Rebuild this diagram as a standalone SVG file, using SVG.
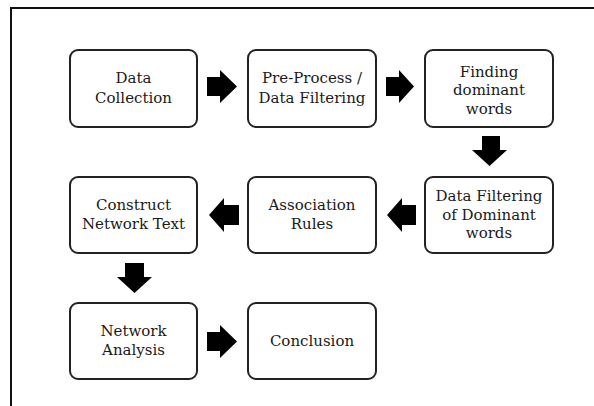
<svg xmlns="http://www.w3.org/2000/svg" width="594" height="406" viewBox="0 0 594 406">
  <style>
    .box { fill: #ffffff; stroke: #222222; stroke-width: 2; }
    .lbl { font-family: "DejaVu Serif", serif; font-size: 15px; fill: #1a1a1a; text-anchor: middle; }
    .arr { fill: #000000; }
    .frame { fill: none; stroke: #111111; stroke-width: 2; }
  </style>
  <rect width="594" height="406" fill="#ffffff"/>
  <!-- outer frame: top and left edges -->
  <path class="frame" d="M11,406 V8 H594"/>

  <g id="n-data-collection">
    <rect class="box" x="70" y="50" width="127" height="77" rx="8"/>
    <text class="lbl" x="133.5" y="83">Data</text>
    <text class="lbl" x="133.5" y="102.5">Collection</text>
  </g>
  <g id="n-pre-process">
    <rect class="box" x="248" y="50" width="128" height="77" rx="8"/>
    <text class="lbl" x="312" y="83">Pre-Process /</text>
    <text class="lbl" x="312" y="102.5">Data Filtering</text>
  </g>
  <g id="n-finding">
    <rect class="box" x="425" y="50" width="128" height="77" rx="8"/>
    <text class="lbl" x="489" y="76.5">Finding</text>
    <text class="lbl" x="489" y="95">dominant</text>
    <text class="lbl" x="489" y="113.5">words</text>
  </g>
  <g id="n-filter-dominant">
    <rect class="box" x="425" y="177" width="128" height="76" rx="8"/>
    <text class="lbl" x="489" y="201">Data Filtering</text>
    <text class="lbl" x="489" y="219.5">of Dominant</text>
    <text class="lbl" x="489" y="238">words</text>
  </g>
  <g id="n-association">
    <rect class="box" x="248" y="177" width="128" height="76" rx="8"/>
    <text class="lbl" x="312" y="210">Association</text>
    <text class="lbl" x="312" y="229">Rules</text>
  </g>
  <g id="n-construct">
    <rect class="box" x="70" y="177" width="127" height="76" rx="8"/>
    <text class="lbl" x="133.5" y="210">Construct</text>
    <text class="lbl" x="133.5" y="229">Network Text</text>
  </g>
  <g id="n-network-analysis">
    <rect class="box" x="70" y="303" width="127" height="76" rx="8"/>
    <text class="lbl" x="133.5" y="336">Network</text>
    <text class="lbl" x="133.5" y="355">Analysis</text>
  </g>
  <g id="n-conclusion">
    <rect class="box" x="248" y="303" width="128" height="76" rx="8"/>
    <text class="lbl" x="312" y="346">Conclusion</text>
  </g>

  <g id="connectors">
    <!-- right block arrows -->
    <path class="arr" d="M207,77 H220 V70 L237,86.5 L220,103 V96 H207 Z"/>
    <path class="arr" d="M386,77 H399 V70 L414,86.5 L399,103 V96 H386 Z"/>
    <path class="arr" d="M207,332 H220 V325 L237,341.5 L220,358 V351 H207 Z"/>
    <!-- down block arrows -->
    <path class="arr" d="M482,136 H500 V150 H507 L489.5,166 L472,150 H482 Z"/>
    <path class="arr" d="M125,263 H144 V277 H152 L134.5,293 L117,277 H125 Z"/>
    <!-- left block arrows -->
    <path class="arr" d="M416,205 H402 V198 L387,215 L402,232 V225 H416 Z"/>
    <path class="arr" d="M239,205 H224 V198 L209,215 L224,232 V225 H239 Z"/>
  </g>
</svg>
